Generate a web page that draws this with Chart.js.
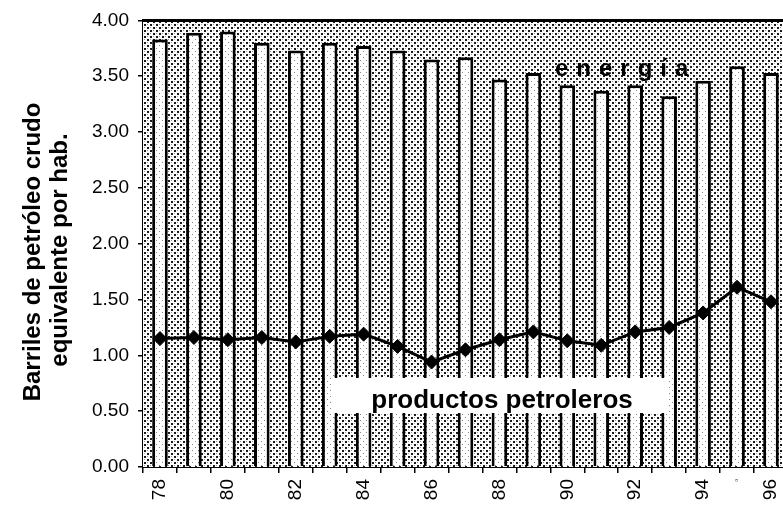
<!DOCTYPE html>
<html>
<head>
<meta charset="utf-8">
<script src="https://cdn.jsdelivr.net/npm/chart.js@4.4.1/dist/chart.umd.min.js"></script>
<style>
html,body{margin:0;padding:0;background:#fff;overflow:hidden;width:783px;height:505px;}
#wrap{position:absolute;left:0;top:0;width:800px;height:505px;}
</style>
</head>
<body>
<div id="wrap"><canvas id="c" width="800" height="505"></canvas></div>
<script>
const years = ['78','79','80','81','82','83','84','85','86','87','88','89','90','91','92','93','94','95','96'];
const tickLabels = ['78','','80','','82','','84','','86','','88','','90','','92','','94','▫','96'];
const energia = [3.83,3.89,3.90,3.80,3.73,3.80,3.77,3.73,3.65,3.67,3.47,3.53,3.42,3.37,3.42,3.32,3.46,3.59,3.53];
const productos = [1.15,1.16,1.14,1.16,1.12,1.17,1.19,1.08,0.94,1.05,1.14,1.21,1.13,1.09,1.21,1.25,1.38,1.61,1.48];
const yTitle = ['Barriles de petróleo crudo','equivalente por hab.'];
const energiaLabel = 'energía';
const productosLabel = 'productos petroleros';

const FONT = "'Liberation Sans', Arial, sans-serif";

function makePattern(size, bg, dots){
  const cv = document.createElement('canvas');
  cv.width = size; cv.height = size;
  const g = cv.getContext('2d');
  g.fillStyle = bg; g.fillRect(0,0,size,size);
  dots.forEach(d => { g.fillStyle = d[4]; g.fillRect(d[0],d[1],d[2],d[3]); });
  return document.getElementById('c').getContext('2d').createPattern(cv,'repeat');
}
const bgPattern = makePattern(6,'#ffffff',[[0,0,2,2,'#1a1a1a'],[3,3,2,2,'#1a1a1a'],[3,0,1,1,'#999'],[0,3,1,1,'#999']]);
const barPattern = makePattern(6,'#ffffff',[[0,0,1,1,'#888'],[3,3,1,1,'#888']]);

const decor = {
  id:'decor',
  beforeDatasetsDraw(chart){
    const a = chart.chartArea, ctx = chart.ctx;
    ctx.save();
    ctx.fillStyle = bgPattern;
    ctx.fillRect(a.left, a.top, a.right - a.left, a.bottom - a.top);
    ctx.restore();
  },
  afterDatasetsDraw(chart){
    const a = chart.chartArea, ctx = chart.ctx;
    ctx.save();
    ctx.strokeStyle = '#000'; ctx.lineWidth = 3;
    ctx.beginPath(); ctx.moveTo(a.left, a.top); ctx.lineTo(a.right, a.top); ctx.stroke();
    ctx.fillStyle = '#000';
    ctx.font = 'bold 24px ' + FONT;
    ctx.textBaseline = 'alphabetic'; ctx.textAlign = 'left';
    let x = 555;
    for (const ch of energiaLabel){ ctx.fillText(ch, x, 76); x += ctx.measureText(ch).width + 8; }
    ctx.fillStyle = '#fff';
    ctx.fillRect(333, 378, 335, 35);
    ctx.fillStyle = '#000';
    ctx.font = 'bold 26px ' + FONT;
    ctx.textAlign = 'center';
    ctx.fillText(productosLabel, 502, 408);
    ctx.font = 'bold 24px ' + FONT;
    ctx.textBaseline = 'middle';
    ctx.save(); ctx.translate(33, 252); ctx.rotate(-Math.PI/2); ctx.fillText(yTitle[0], 0, 0); ctx.restore();
    ctx.save(); ctx.translate(60, 250); ctx.rotate(-Math.PI/2); ctx.fillText(yTitle[1], 0, 0); ctx.restore();
    ctx.restore();
  }
};

new Chart(document.getElementById('c'), {
  type:'bar',
  data:{
    labels: years,
    datasets:[
      {type:'line', label:'productos petroleros', data:productos, borderColor:'#000', borderWidth:3,
       pointStyle:'rectRot', pointRadius:7, pointBackgroundColor:'#000', pointBorderColor:'#000', pointBorderWidth:1,
       tension:0, order:0},
      {type:'bar', label:'energía', data:energia, backgroundColor:barPattern, borderColor:'#000', borderWidth:3,
       barPercentage:0.46, categoryPercentage:1, order:1}
    ]
  },
  options:{
    responsive:false, animation:false, devicePixelRatio:1,
    layout:{padding:{top:20,right:8,bottom:0,left:0}},
    plugins:{legend:{display:false}, tooltip:{enabled:false}},
    scales:{
      x:{
        grid:{drawOnChartArea:false, offset:true, tickLength:6, color:'#000', lineWidth:1.5},
        border:{color:'#000', width:2},
        ticks:{color:'#000', maxRotation:90, minRotation:90, autoSkip:false, padding:6,
          font:(c)=> (c.index===17 ? {size:8, family:FONT} : {size:19, family:FONT}),
          callback:(v,i)=>tickLabels[i]},
        afterFit:(s)=>{s.height = 38;}
      },
      y:{
        min:0, max:4,
        grid:{drawOnChartArea:false, tickLength:5, color:'#000', lineWidth:1.5},
        border:{color:'#000', width:3},
        ticks:{stepSize:0.5, color:'#000', padding:9, font:{size:19, family:FONT},
          callback:(v)=>Number(v).toFixed(2)},
        afterFit:(s)=>{s.width = 143;}
      }
    }
  },
  plugins:[decor]
});
</script>
</body>
</html>
